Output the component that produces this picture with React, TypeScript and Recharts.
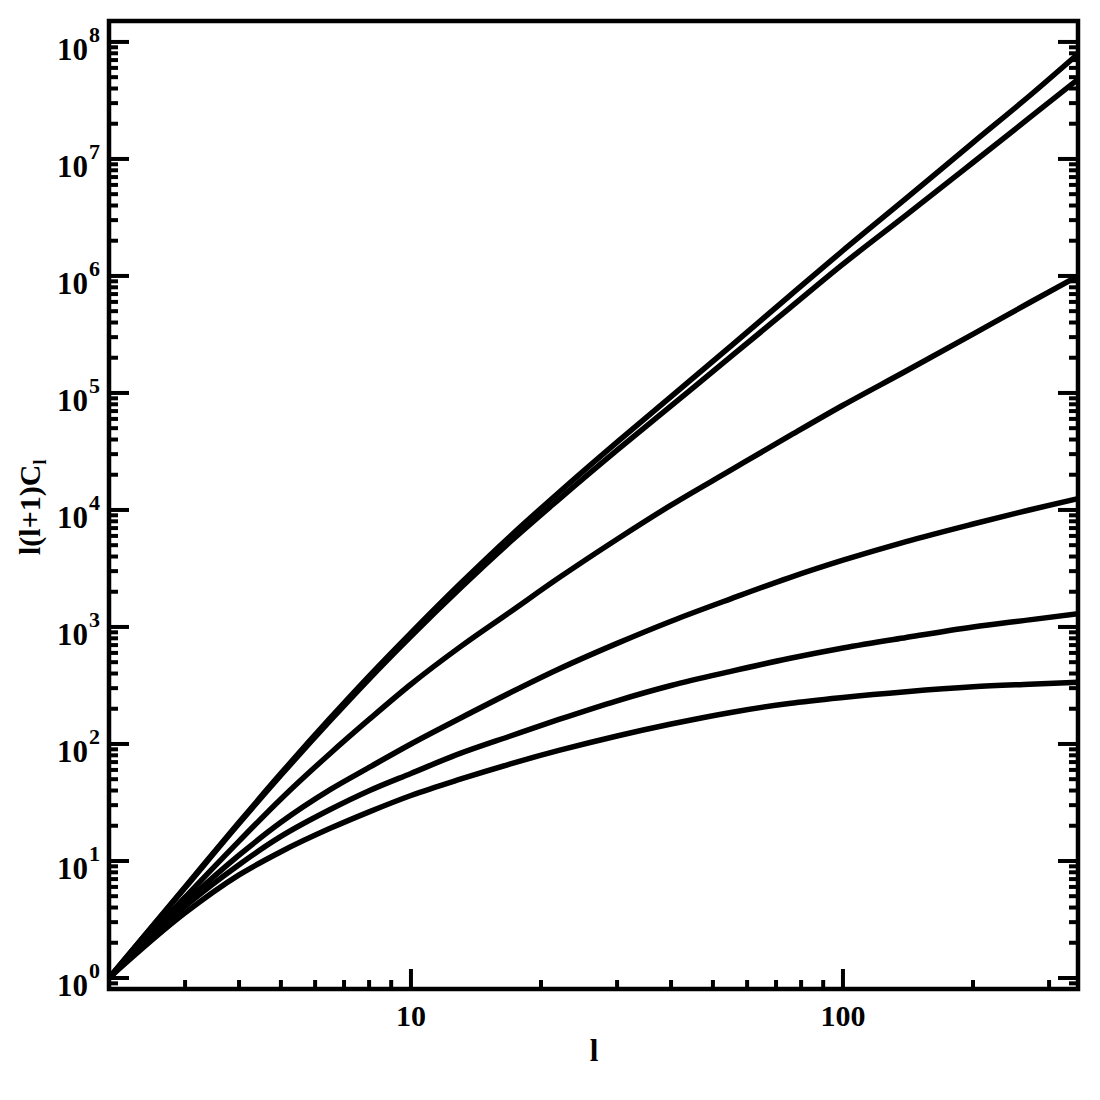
import { LineChart, Line, XAxis, YAxis, ReferenceArea } from "recharts";

// multipole l where the curves were read
const multipoles = [2, 3, 4, 5, 6.5, 8, 10, 13, 17, 22, 30, 40, 55, 75, 100, 140, 200, 270, 350];

// l(l+1)C_l, one array per curve (top to bottom at the right edge)
const curve1 = [1, 6.0, 21.4, 56, 166, 380, 890, 2340, 6000, 14100, 38000, 93000, 251000, 670000, 1.65e6, 4.6e6, 1.38e7, 3.45e7, 7.9e7];
const curve2 = [1, 5.9, 20.9, 54, 158, 359, 832, 2140, 5370, 12300, 32400, 77600, 204000, 525000, 1.26e6, 3.31e6, 9.33e6, 2.24e7, 4.79e7];
const curve3 = [1, 4.9, 14.8, 33.9, 83, 162, 324, 676, 1350, 2630, 5620, 11000, 21900, 42700, 78500, 154000, 318000, 590000, 1.0e6];
const curve4 = [1, 4.4, 11.2, 21.4, 40.7, 63, 100, 166, 275, 437, 724, 1120, 1740, 2630, 3720, 5370, 7590, 10000, 12500];
const curve5 = [1, 4.1, 9.3, 16.2, 27.5, 39.8, 56, 83, 117, 162, 234, 316, 417, 537, 661, 813, 1000, 1150, 1300];
const curve6 = [1, 3.6, 7.6, 12, 19, 26.3, 36.3, 50, 67.6, 88, 117, 148, 186, 222, 250, 280, 308, 324, 337];

const xTicks = [3, 4, 5, 6, 7, 8, 9, 10, 20, 30, 40, 50, 60, 70, 80, 90, 100, 200, 300];
const xMajor = [10, 100];
const yMajor = [1, 10, 100, 1e3, 1e4, 1e5, 1e6, 1e7, 1e8];
const yMinorFactors = [2, 3, 4, 5, 6, 7, 8, 9];

const yTicks = [0.9];
yMajor.forEach((d) => {
  yTicks.push(d);
  yMinorFactors.forEach((m) => {
    if (m * d < 1.5e8) yTicks.push(m * d);
  });
});

const data = multipoles.map((l, i) => ({
  l,
  c1: curve1[i],
  c2: curve2[i],
  c3: curve3[i],
  c4: curve4[i],
  c5: curve5[i],
  c6: curve6[i],
}));

const FONT = "'Liberation Serif', 'Times New Roman', serif";
const MAJOR = 20;
const MINOR = 9;

const BottomTick = ({ x, y, payload }: any) => {
  const major = xMajor.includes(payload.value);
  return (
    <g>
      <line x1={x} x2={x} y1={y} y2={y - (major ? MAJOR : MINOR)} stroke="#000" strokeWidth={4} />
      {major && (
        <text x={x} y={y + 37} textAnchor="middle" fontFamily={FONT} fontWeight="bold" fontSize={30} fill="#000">
          {payload.value}
        </text>
      )}
    </g>
  );
};

const TopTick = ({ x, y, payload }: any) => {
  const major = xMajor.includes(payload.value);
  return <line x1={x} x2={x} y1={y} y2={y + (major ? MAJOR : MINOR)} stroke="#000" strokeWidth={4} />;
};

const LeftTick = ({ x, y, payload }: any) => {
  const major = yMajor.includes(payload.value);
  return (
    <g>
      <line x1={x} x2={x + (major ? MAJOR : MINOR)} y1={y} y2={y} stroke="#000" strokeWidth={4} />
      {major && (
        <text fontFamily={FONT} fontWeight="bold" fill="#000">
          <tspan x={x - 21} y={y + 18} textAnchor="end" fontSize={31}>10</tspan>
          <tspan x={x - 20} y={y} fontSize={22}>{Math.round(Math.log10(payload.value))}</tspan>
        </text>
      )}
    </g>
  );
};

const RightTick = ({ x, y, payload }: any) => {
  const major = yMajor.includes(payload.value);
  return <line x1={x} x2={x - (major ? MAJOR : MINOR)} y1={y} y2={y} stroke="#000" strokeWidth={4} />;
};

const XTitle = () => (
  <text x={594} y={1061} textAnchor="middle" fontFamily={FONT} fontWeight="bold" fontSize={31} fill="#000">
    l
  </text>
);

const YTitle = () => (
  <text transform="translate(40,555) rotate(-90)" fontFamily={FONT} fontWeight="bold" fontSize={30} fill="#000">
    l(l+1)C
    <tspan dy={6} fontSize={18}>l</tspan>
  </text>
);

const series = ["c1", "c2", "c3", "c4", "c5", "c6"];

export default function App() {
  return (
    <div style={{ position: "absolute", left: 0, top: 0, background: "#fff" }}>
      <LineChart width={1100} height={1100} data={data} margin={{ top: 20, right: 21, bottom: 110, left: 108 }}>
        <XAxis
          xAxisId="b"
          dataKey="l"
          type="number"
          scale="log"
          domain={[2, 350]}
          allowDataOverflow
          ticks={xTicks}
          interval={0}
          tickSize={0}
          tickMargin={0}
          tickLine={false}
          axisLine={false}
          height={1}
          tick={<BottomTick />}
          label={<XTitle />}
        />
        <XAxis
          xAxisId="t"
          orientation="top"
          type="number"
          scale="log"
          domain={[2, 350]}
          allowDataOverflow
          ticks={xTicks}
          interval={0}
          tickSize={0}
          tickMargin={0}
          tickLine={false}
          axisLine={false}
          height={1}
          tick={<TopTick />}
        />
        <YAxis
          yAxisId="l"
          type="number"
          scale="log"
          domain={[0.805, 1.51e8]}
          allowDataOverflow
          ticks={yTicks}
          interval={0}
          tickSize={0}
          tickMargin={0}
          tickLine={false}
          axisLine={false}
          width={1}
          tick={<LeftTick />}
          label={<YTitle />}
        />
        <YAxis
          yAxisId="r"
          orientation="right"
          type="number"
          scale="log"
          domain={[0.805, 1.51e8]}
          allowDataOverflow
          ticks={yTicks}
          interval={0}
          tickSize={0}
          tickMargin={0}
          tickLine={false}
          axisLine={false}
          width={1}
          tick={<RightTick />}
        />
        <ReferenceArea
          xAxisId="b"
          yAxisId="l"
          x1={2}
          x2={350}
          y1={0.805}
          y2={1.51e8}
          fill="none"
          stroke="#000"
          strokeWidth={4.5}
          ifOverflow="visible"
        />
        {series.map((key) => (
          <Line
            key={key}
            xAxisId="b"
            yAxisId="l"
            dataKey={key}
            type="monotone"
            stroke="#000"
            strokeWidth={5.5}
            dot={false}
            isAnimationActive={false}
          />
        ))}
      </LineChart>
    </div>
  );
}
